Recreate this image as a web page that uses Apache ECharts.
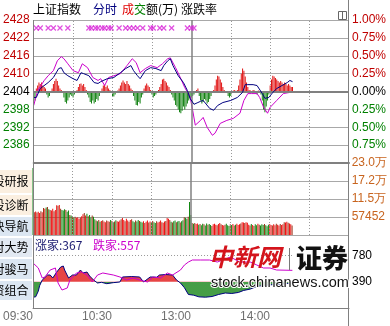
<!DOCTYPE html>
<html>
<head>
<meta charset="utf-8">
<script src="https://cdn.jsdelivr.net/npm/echarts@6.0.0/dist/echarts.min.js"></script>
<style>
html,body{margin:0;padding:0;background:#fff;}
#chart{width:390px;height:326px;}
</style>
</head>
<body>
<div id="chart"></div>
<script>
// ================= DATA =================
const prevClose = 2404;
const priceAxisMin = 2380, priceAxisMax = 2428, priceStep = 6;
const timeTicks = [0, 60, 120, 180];
const timeTickLabels = ['09:30', '10:30', '13:00', '14:00'];
const gridMinutes = [30, 60, 90, 150, 180, 210];
const lunchMinute = 120;

// 上证指数 (navy line): minute index, value
const priceMin = [0,2,5,11,15,19,21,23,26,30,33,36,38,42,46,49,51,56,61,66,70,74,76,79,81,85,89,93,97,99,102,104,106,110,114,117,119,122,125,127,129,134,137,140,144,150,155,159,161,163,167,170,174,176,179,182,185,189,193,195,197];
const priceVal = [2402,2402,2405,2407,2408.7,2411.7,2412,2410.3,2409.3,2408.3,2407.7,2410.3,2410,2409.3,2407,2406.7,2407.3,2408.3,2408.7,2410.3,2411.7,2412.7,2411,2409.3,2408.3,2411,2412,2411.7,2411,2412.7,2414.3,2415,2412.7,2409.3,2407,2404.3,2401.7,2399.7,2400.3,2400.7,2401,2398.3,2397.7,2399.3,2400.3,2401,2402,2403.7,2406.3,2406.3,2406.3,2406,2403.3,2401.7,2402,2403.7,2405,2406,2407,2407.7,2407.3];

// magenta line
const leadMin = [0,3,8,11,15,18,21,23,26,30,34,37,41,45,49,51,54,57,66,71,75,78,81,85,89,94,98,102,104,108,112,115,119,121,123,127,129,132,136,138,142,147,152,157,160,163,166,170,172,175,178,180,185,190,195,197];
const leadVal = [2399.3,2404.3,2407.7,2409.3,2411,2414.3,2415.7,2415,2413.3,2411,2410.3,2413.3,2412,2408.7,2407.7,2408.3,2406,2408.7,2410,2412.7,2415,2413.7,2410.3,2411.7,2412.7,2412,2413.3,2415,2415.3,2412,2408.3,2405.3,2402.3,2397.7,2392.7,2394.3,2395.3,2392,2389.3,2390,2393.3,2394.3,2395,2396.7,2401,2403.3,2403.3,2403.3,2402,2398.7,2396.7,2398.7,2401,2403.3,2403.7,2403.7];

// red / green strength bars in the price panel (per minute, points)
const strengthBars = [
-2,-3,
1,2,3,2.5,3,2,1.5,1,
-1,-2,-1.5,-0.5,
1,2.5,3.5,4.3,3.5,2,1,
0.5,-0.5,
-2,-3.5,-4,-3,-2,-1,
-1.5,-2,-1,-0.5,0.5,
1.5,2.5,2.7,2,2.5,1.5,0.5,
-1,-2,-3.5,-4,-3,-4,-3.5,-2.5,-3,-1.5,-0.5,
1,2,2.3,1.5,2,1,0.5,
-0.5,-1.5,-1.7,-1,-0.5,0.3,
1,2,3,3.7,3,2.5,3.5,2.5,2,1,0.5,
-1.5,-3,-4.5,-4.7,-3.5,-4,-2,-1,
1,2,2.7,2,1.5,0.5,
-1,-2,-1.5,-1,-0.5,
0.5,
1.5,2.5,4,4.3,3.5,3,2,1.5,0.5,
-1,-2,-3,-4.5,-5,-6,-7,-7.3,-6.5,-5,-6,-5,-4,-3,
-2.3,-2,-1.5,-1,-0.5,
0.5,1,
-1.5,-3,-4,-3.5,-2.5,-3,-4,-3.5,-2.5,-1.5,-0.5,
0.5,
2,4,5.3,5,4,3,1.5,0.5,
-0.3,-0.5,
-1.5,-2,-1.5,-0.5,
0.3,0.5,-0.3,0.5,
2,4,6,7.7,7,5,3,1.5,
0.5,0.3,-0.3,0.5,0.3,-0.5,-1,0.3,-0.5,-1,
-3,-6,-7,-5,-3,
-1,
2,4,5.3,5,4.5,4,3.5,3,3.5,3,2.5,3,2.5,2,2.5,2,1.5,1.5
];

// magenta x markers row
const markerLevel = 2425.3;
const markerMin = [2,5,11,15,20,26,42,44,47,49,52,54,57,59,65,70,73,76,79,83,89,91,96,99,105,117,120,122];

// 成交额(万) per minute
const volTick = 57452;
const volume = [
213800,
73000,75000,72000,74000,70000,76000,73000,86000,84000,88000,
89000,82000,80000,78000,84000,76000,80000,95000,93000,96000,
84000,80000,78000,82000,80000,74000,78000,64000,62000,
57000,56000,58000,55000,57000,52000,56000,60000,
66000,70000,62000,68000,60000,64000,56000,62000,58000,50000,
46000,44000,48000,42000,45000,47000,43000,41000,46000,44000,42000,48000,45000,41000,43000,47000,44000,42000,46000,
50000,54000,48000,44000,52000,46000,42000,48000,50000,44000,41000,46000,43000,48000,45000,
42000,40000,44000,38000,42000,46000,40000,43000,39000,45000,41000,38000,44000,40000,42000,46000,41000,39000,43000,45000,
54000,52000,48000,
42000,40000,44000,46000,41000,43000,45000,40000,44000,47000,
57000,55000,52000,58000,
105000,
64000,38000,36000,38000,35000,37000,
33000,35000,31000,36000,34000,30000,37000,33000,35000,32000,29000,34000,36000,33000,31000,35000,38000,34000,32000,30000,33000,36000,31000,29000,34000,32000,35000,30000,33000,36000,32000,34000,37000,
41000,40000,38000,41000,39000,
33000,30000,35000,32000,29000,34000,31000,36000,33000,30000,34000,32000,35000,31000,28000,33000,35000,32000,30000,34000,31000,36000,33000,30000,35000,32000,34000,
41000,40000,42000,39000,37000,34000,30000
];
// volume bar colour per minute: r = red, g = green, b = brown
const volumeCodes = ['gb','rbrrbrbr','gbgb','rrbrrbr','bg','ggbggb','gbgbr','rrbrrbr','gbggbggbgbg','rbrrbrb','gbgbgr','rrbrrbrrbrb','ggbggbgg','rbrrbr','gbggb','r','rrbrrbrrb','gbggbggbggbggb','ggbgb','rr','gbggbggbggb','r','rrbrrbrr','bg','ggbg','rbgr','rrbrrbrr','rbgrbggrbg','ggbgg','g','rrbrrbrrbrrbrrbrrb'];

// 涨家 / 跌家 counts
const breadthBase = 390;
const breadthTicks = [390, 780];
const upMin = [0,2,4,5,7,11,13,15,18,21,23,24,27,30,33,36,38,41,43,46,49,52,56,61,66,68,75,81,84,89,94,96,101,106,109,112,115,118,122,126,131,136,141,146,151,156,160,165,170,176,182,188,193,197];
const upVal = [160,165,250,330,414,488,488,444,532,606,621,562,444,488,488,562,518,532,473,414,370,380,360,375,385,459,465,459,385,459,455,488,495,488,414,370,300,200,190,165,160,170,200,222,215,230,260,280,320,335,345,355,362,367];
const downMin = [0,4,7,9,13,17,19,22,26,28,33,37,41,45,49,53,61,66,71,76,81,87,91,97,102,106,112,115,118,121,127,134,140,144,150,157,165,170,175,180,185,197];
const downVal = [666,592,444,459,562,592,370,266,296,414,518,532,488,385,488,518,488,459,414,444,414,385,459,444,518,488,562,636,680,710,710,710,680,710,754,680,680,636,592,592,562,557];

// ================= CHART =================
const zip = (a, b) => a.map((v, i) => [v, b[i]]);
const RED = '#e01010', GREEN = '#128212', NAVY = '#000080', MAG = '#cc00cc';
const volColor = { r: '#ee1111', g: '#128812', b: '#9a3418' };
const codeStr = volumeCodes.join('');
const volData = volume.map((v, i) => ({ value: [i, v], itemStyle: { color: volColor[codeStr[i]] } }));
const strengthData = strengthBars.map((v, i) => [i, v]);
const FONT = 'Liberation Sans';
const CJK = 'Noto Sans CJK SC';

const vLines = gridMinutes.map(m => ({ xAxis: m, lineStyle: { color: '#999', width: 1, type: [1, 2] } }))
  .concat([{ xAxis: lunchMinute, lineStyle: { color: '#808080', width: 1.5, type: 'solid' } }]);

const xBase = (gi, extra) => Object.assign({
  type: 'value', gridIndex: gi, min: 0, max: 240, interval: 30,
  axisLine: { show: false }, axisTick: { show: false }, axisLabel: { show: false }, splitLine: { show: false }
}, extra || {});

const menuRows = [
  { t: '个股研报', y0: 170, y1: 193, bg: '#fbefe0' },
  { t: '个股诊断', y0: 195, y1: 215, bg: '#fbefe0' },
  { t: '板块导航', y0: 217, y1: 236, bg: '#dbe6f2' },
  { t: '应对大势', y0: 238, y1: 257, bg: '#e2e9f2' },
  { t: '找对骏马', y0: 259, y1: 279, bg: '#dbe6f2' },
  { t: '投资组合', y0: 281, y1: 300, bg: '#dbe6f2' }
];
const graphics = [];
menuRows.forEach(r => {
  graphics.push({ type: 'rect', shape: { x: 0, y: r.y0, width: 32, height: r.y1 - r.y0 }, style: { fill: r.bg }, z: 1 });
  graphics.push({ type: 'text', x: 28.5, y: (r.y0 + r.y1) / 2, style: { text: r.t, fill: '#000', font: '12px "' + CJK + '"', align: 'right', verticalAlign: 'middle' }, z: 2 });
});
const titleItems = [
  { t: '上证指数', x: 33, c: '#000' }, { t: '分时', x: 93, c: NAVY },
  { t: '成', x: 122, c: '#e00000' }, { t: '交', x: 134, c: '#008000' },
  { t: '额(万)', x: 146, c: '#000' }, { t: '涨跌率', x: 181, c: '#000' }
];
titleItems.forEach(it => graphics.push({ type: 'text', x: it.x, y: 9.5, style: { text: it.t, fill: it.c, font: '12px "' + CJK + '"', verticalAlign: 'middle' }, z: 5 }));
graphics.push(
  { type: 'rect', shape: { x: 338.5, y: 11.5, width: 8, height: 8 }, style: { fill: '#fff', stroke: '#666', lineWidth: 1 }, z: 5 },
  { type: 'line', shape: { x1: 342.5, y1: 11.5, x2: 342.5, y2: 19.5 }, style: { stroke: '#666', lineWidth: 1 }, z: 5 },
  { type: 'line', shape: { x1: 33.5, y1: 20, x2: 33.5, y2: 308 }, style: { stroke: '#808080', lineWidth: 1 }, z: 20 },
  { type: 'line', shape: { x1: 348.5, y1: 0, x2: 348.5, y2: 326 }, style: { stroke: '#808080', lineWidth: 1 }, z: 20 },
  { type: 'text', x: 35, y: 245, style: { text: '涨家:' + upVal[upVal.length - 1], fill: '#1a1a70', font: '12px "' + CJK + '"', verticalAlign: 'middle' }, z: 10 },
  { type: 'text', x: 93, y: 245, style: { text: '跌家:' + downVal[downVal.length - 1], fill: MAG, font: '12px "' + CJK + '"', verticalAlign: 'middle' }, z: 10 },
  // watermark
  { type: 'rect', shape: { x: 294, y: 243, width: 54, height: 31 }, style: { fill: '#fff' }, z: 29 },
  { type: 'text', x: 209, y: 257, style: { text: '中新网', fill: '#d4141c', font: 'italic bold 24px "' + CJK + '"', verticalAlign: 'middle' }, z: 30 },
  { type: 'line', shape: { x1: 289.5, y1: 248, x2: 289.5, y2: 270 }, style: { stroke: '#777', lineWidth: 1 }, z: 30 },
  { type: 'text', x: 296, y: 258, style: { text: '证券', fill: '#111', font: '900 26px "' + CJK + '"', verticalAlign: 'middle' }, z: 30 },
  { type: 'text', x: 211, y: 283, style: { text: 'stock.chinanews.com', fill: '#111', font: '14.5px "' + FONT + '"', verticalAlign: 'middle', stroke: '#fff', lineWidth: 2 }, z: 30 }
);

const chart = echarts.init(document.getElementById('chart'), null, { renderer: 'canvas' });
chart.setOption({
  animation: false,
  backgroundColor: '#fff',
  grid: [
    { left: 33, top: 20, width: 316, height: 143 },
    { left: 33, top: 163, width: 316, height: 72 },
    { left: 33, top: 235, width: 316, height: 73 }
  ],
  xAxis: [
    xBase(0, { axisLine: { show: true, onZero: false, lineStyle: { color: '#808080', width: 2 } } }),
    xBase(1),
    xBase(2, {
      axisLine: { show: true, onZero: false, lineStyle: { color: '#808080', width: 1 } },
      axisLabel: {
        show: true, margin: 3, align: 'right', color: '#707070', fontFamily: FONT, fontSize: 12,
        formatter: v => { const k = timeTicks.indexOf(v); return k >= 0 ? timeTickLabels[k] : ''; }
      }
    })
  ],
  yAxis: [
    { type: 'value', gridIndex: 0, position: 'left', min: priceAxisMin, max: priceAxisMax, interval: priceStep,
      axisLine: { show: false }, axisTick: { show: false },
      splitLine: { show: true, lineStyle: { color: '#a8a8a8', width: 1 } },
      axisLabel: { margin: 4, fontFamily: FONT, fontSize: 12,
        formatter: v => v === priceAxisMin ? '' : String(v),
        color: v => (+v > prevClose ? '#c00000' : (+v < prevClose ? '#008000' : '#000')) } },
    { type: 'value', gridIndex: 0, position: 'right', min: -1, max: 1, interval: 0.25,
      axisLine: { show: false }, axisTick: { show: false }, splitLine: { show: false },
      axisLabel: { margin: 3, fontFamily: FONT, fontSize: 12,
        formatter: v => (v <= -1 ? '' : Math.abs(v).toFixed(2) + '%'),
        color: v => (+v > 0 ? '#c00000' : (+v < 0 ? '#008000' : '#000')) } },
    { type: 'value', gridIndex: 0, min: -(priceAxisMax - prevClose), max: priceAxisMax - prevClose, show: false },
    { type: 'value', gridIndex: 1, position: 'right', min: 0, max: 4 * volTick, interval: volTick,
      axisLine: { show: false }, axisTick: { show: false },
      splitLine: { show: true, lineStyle: { color: '#a8a8a8', width: 1 } },
      axisLabel: { margin: 3, fontFamily: FONT, fontSize: 12, color: '#c8641e',
        formatter: v => (v === 0 ? '' : (v >= 100000 ? (v / 10000).toFixed(1) + '万' : String(v))) } },
    { type: 'value', gridIndex: 2, position: 'right', min: 0, max: 1080, interval: 390,
      axisLine: { show: false }, axisTick: { show: false }, splitLine: { show: false },
      axisLabel: { margin: 3, fontFamily: FONT, fontSize: 12, color: '#000',
        formatter: v => (breadthTicks.indexOf(v) >= 0 ? String(v) : '') } }
  ],
  visualMap: [{
    show: false, type: 'piecewise', seriesIndex: 5, dimension: 1,
    pieces: [{ gte: 0, lt: breadthBase, color: GREEN }, { gte: breadthBase, lte: 1080, color: RED }]
  }],
  series: [
    { type: 'bar', xAxisIndex: 0, yAxisIndex: 2, data: strengthData, barWidth: 1, silent: true, z: 2,
      itemStyle: { color: p => (p.value[1] >= 0 ? RED : GREEN) },
      markLine: { silent: true, symbol: 'none', label: { show: false }, data: vLines.concat([{ yAxis: 0, lineStyle: { color: '#808080', width: 2, type: 'solid' } }]) } },
    { type: 'line', xAxisIndex: 0, yAxisIndex: 0, data: zip(leadMin, leadVal), showSymbol: false, silent: true, z: 4,
      lineStyle: { color: MAG, width: 1 } },
    { type: 'line', xAxisIndex: 0, yAxisIndex: 0, data: zip(priceMin, priceVal), showSymbol: false, silent: true, z: 5,
      lineStyle: { color: NAVY, width: 1 } },
    { type: 'scatter', xAxisIndex: 0, yAxisIndex: 0, data: markerMin.map(m => [m, markerLevel]), silent: true, z: 6,
      symbol: 'path://M0 0L10 10M10 0L0 10', symbolSize: 5,
      itemStyle: { color: 'rgba(0,0,0,0)', borderColor: '#d822d8', borderWidth: 1.2 } },
    { type: 'bar', xAxisIndex: 1, yAxisIndex: 3, data: volData, barWidth: 1, silent: true, z: 2,
      markLine: { silent: true, symbol: 'none', label: { show: false }, data: vLines } },
    { type: 'line', xAxisIndex: 2, yAxisIndex: 4, data: zip(upMin, upVal), showSymbol: false, silent: true, z: 2,
      lineStyle: { width: 0, opacity: 0 }, areaStyle: { origin: breadthBase, opacity: 0.78 } },
    { type: 'line', xAxisIndex: 2, yAxisIndex: 4, data: zip(upMin, upVal), showSymbol: false, silent: true, z: 4,
      lineStyle: { color: NAVY, width: 1 } },
    { type: 'line', xAxisIndex: 2, yAxisIndex: 4, data: zip(downMin, downVal), showSymbol: false, silent: true, z: 5,
      lineStyle: { color: MAG, width: 1 },
      markLine: { silent: true, symbol: 'none', label: { show: false }, data: [{ yAxis: 780, lineStyle: { color: '#999', width: 1, type: [1, 2] } }] } }
  ],
  graphic: graphics
});
</script>
</body>
</html>
